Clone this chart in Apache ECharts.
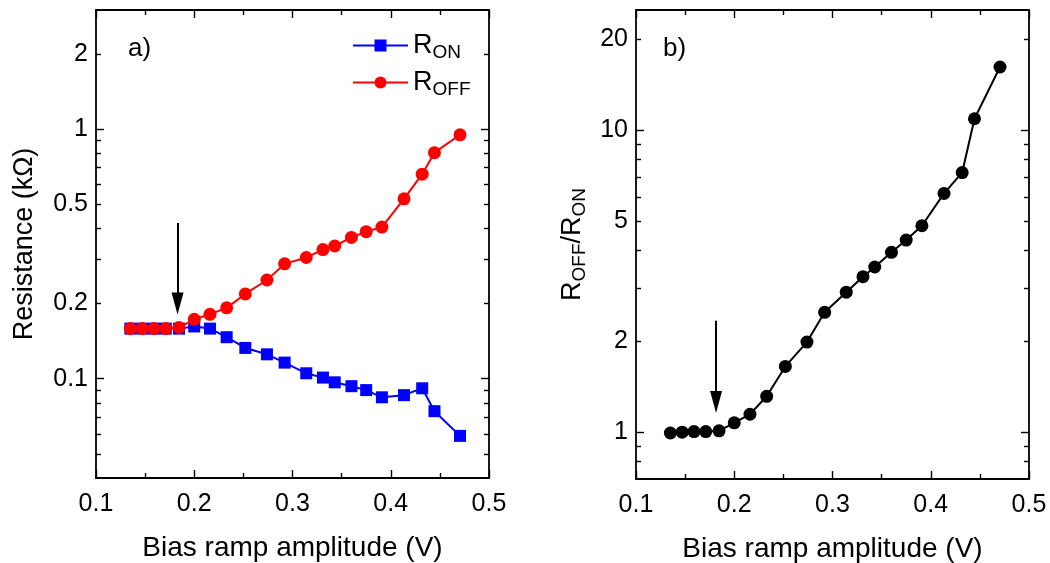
<!DOCTYPE html>
<html><head><meta charset="utf-8">
<script src="https://cdn.jsdelivr.net/npm/echarts@6/dist/echarts.min.js"></script>
<style>html,body{margin:0;padding:0;background:#fff}#c{width:1050px;height:563px}</style>
</head><body><div id="c"></div>
<script>
// ---- data ----
const biasV = [0.135,0.147,0.159,0.171,0.1845,0.200,0.216,0.233,0.252,0.274,0.292,0.314,0.331,0.343,0.360,0.375,0.391,0.4135,0.432,0.4445,0.4705];
const rOn   = [0.1587,0.1587,0.1587,0.1587,0.1587,0.1619,0.1587,0.1466,0.1328,0.1252,0.1160,0.1051,0.1010,0.0967,0.0933,0.0900,0.0842,0.0859,0.0915,0.0741,0.0590];
const rOff  = [0.1587,0.1587,0.1587,0.1587,0.1603,0.1729,0.1811,0.1922,0.2185,0.2485,0.2884,0.3059,0.3290,0.3401,0.3681,0.3880,0.4050,0.5256,0.6599,0.8043,0.9486];
const ratio = [0.994,1.0,1.005,1.005,1.011,1.074,1.147,1.315,1.651,1.988,2.495,2.909,3.273,3.524,3.942,4.326,4.827,6.176,7.240,10.91,16.19];

const xTickLabels = [0.1,0.2,0.3,0.4,0.5];
const yLabelsA = [0.1,0.2,0.5,1,2];
const yMajorA  = [0.1,1];
const yMinorA  = [0.05,0.06,0.07,0.08,0.09,0.2,0.3,0.4,0.5,0.6,0.7,0.8,0.9,2];
const yLabelsB = [1,2,5,10,20];
const yMajorB  = [1,10];
const yMinorB  = [0.8,0.9,2,3,4,5,6,7,8,9,20];

const arrowA = {x:0.183, top:0.42, head:0.2};
const arrowB = {x:0.1815, top:2.34, head:1.26};

// ---- chart ----
const FONT = '"Liberation Sans", Arial, sans-serif';
const chart = echarts.init(document.getElementById('c'));

function xAx(grid, pos, showLabel) {
  return {
    type:'value', gridIndex:grid, position:pos, min:0.1, max:0.5, interval:0.1,
    axisLine:{show:true, onZero:false, lineStyle:{color:'#000', width:1.8}},
    axisTick:{show:true, inside:true, length:8, lineStyle:{color:'#000', width:1.4}},
    minorTick:{show:true, splitNumber:2, length:5, lineStyle:{color:'#000', width:1.4}},
    axisLabel:{show:showLabel, color:'#000', fontSize:25, fontFamily:FONT, margin:14,
      customValues:xTickLabels, formatter:v=>String(v)},
    splitLine:{show:false}, minorSplitLine:{show:false},
    name: showLabel ? 'Bias ramp amplitude (V)' : '',
    nameLocation:'middle', nameGap:56,
    nameTextStyle:{color:'#000', fontSize:28, fontFamily:FONT}
  };
}
function yAx(grid, pos, min, max, ticks, len, labels, showLine, name, nameGap) {
  return {
    type:'log', logBase:10, gridIndex:grid, position:pos, min:min, max:max,
    axisLine:{show:showLine, onZero:false, lineStyle:{color:'#000', width:1.8}},
    axisTick:{show:true, inside:true, length:len, customValues:ticks, lineStyle:{color:'#000', width:1.4}},
    axisLabel:{show:!!labels, customValues:labels||undefined, color:'#000', fontSize:25, fontFamily:FONT, margin:8,
      formatter:v=>String(+v.toPrecision(6))},
    splitLine:{show:false},
    name:name||'', nameLocation:'middle', nameGap:nameGap||0,
    nameTextStyle:{color:'#000', fontSize:27, fontFamily:FONT}
  };
}

const subRich = {
  m:{fontSize:27, fontFamily:FONT, color:'#000', lineHeight:30},
  s:{fontSize:19, fontFamily:FONT, color:'#000', padding:[14,0,0,0], lineHeight:20}
};

const option = {
  animation:false,
  backgroundColor:'#fff',
  title:[
    {text:'a)', left:123, top:31, textStyle:{fontSize:26, fontWeight:'normal', color:'#000', fontFamily:FONT}},
    {text:'b)', left:658, top:31, textStyle:{fontSize:26, fontWeight:'normal', color:'#000', fontFamily:FONT}}
  ],
  legend:{
    orient:'vertical', left:347, top:24, itemWidth:55, itemHeight:15, itemGap:4,
    data:['RON','ROFF'],
    formatter: n => n==='RON' ? '{m|R}{s|ON}' : '{m|R}{s|OFF}',
    textStyle:{fontSize:27, fontFamily:FONT, color:'#000', rich:subRich}
  },
  grid:[
    {left:96, right:561, top:10, bottom:85, outerBoundsMode:'none', containLabel:false},
    {left:636, right:21, top:10, bottom:84, outerBoundsMode:'none', containLabel:false}
  ],
  xAxis:[ xAx(0,'bottom',true), xAx(0,'top',false), xAx(1,'bottom',true), xAx(1,'top',false) ],
  yAxis:[
    yAx(0,'left',0.04,3,yMajorA,8,yLabelsA,true,'Resistance (kΩ)',58),
    yAx(0,'left',0.04,3,yMinorA,5,null,false),
    yAx(0,'right',0.04,3,yMajorA,8,null,true),
    yAx(0,'right',0.04,3,yMinorA,5,null,false),
    yAx(1,'left',0.7,25,yMajorB,8,yLabelsB,true,'{m|R}{s|OFF}{m|/R}{s|ON}',48),
    yAx(1,'left',0.7,25,yMinorB,5,null,false),
    yAx(1,'right',0.7,25,yMajorB,8,null,true),
    yAx(1,'right',0.7,25,yMinorB,5,null,false)
  ],
  series:[
    {name:'RON', type:'line', xAxisIndex:0, yAxisIndex:0, data:biasV.map((x,i)=>[x,rOn[i]]),
      symbol:'rect', symbolSize:12, color:'#0000ff', lineStyle:{width:2, color:'#0000ff'}, itemStyle:{color:'#0000ff'}, z:2},
    {name:'ROFF', type:'line', xAxisIndex:0, yAxisIndex:0, data:biasV.map((x,i)=>[x,rOff[i]]),
      symbol:'circle', symbolSize:13, color:'#ff0000', lineStyle:{width:2, color:'#ff0000'}, itemStyle:{color:'#ff0000'}, z:3,
      markLine:{silent:true, symbol:['none','triangle'], symbolSize:[12,22], label:{show:false},
        lineStyle:{color:'#000', width:2, type:'solid'}, itemStyle:{color:'#000'},
        data:[[{coord:[arrowA.x, arrowA.top]},{coord:[arrowA.x, arrowA.head]}]]}},
    {name:'ratio', type:'line', xAxisIndex:2, yAxisIndex:4, data:biasV.map((x,i)=>[x,ratio[i]]),
      symbol:'circle', symbolSize:13, color:'#000', lineStyle:{width:2, color:'#000'}, itemStyle:{color:'#000'},
      markLine:{silent:true, symbol:['none','triangle'], symbolSize:[12,22], label:{show:false},
        lineStyle:{color:'#000', width:2, type:'solid'}, itemStyle:{color:'#000'},
        data:[[{coord:[arrowB.x, arrowB.top]},{coord:[arrowB.x, arrowB.head]}]]}}
  ]
};
option.yAxis[4].nameTextStyle.rich = subRich;
chart.setOption(option);
</script></body></html>
